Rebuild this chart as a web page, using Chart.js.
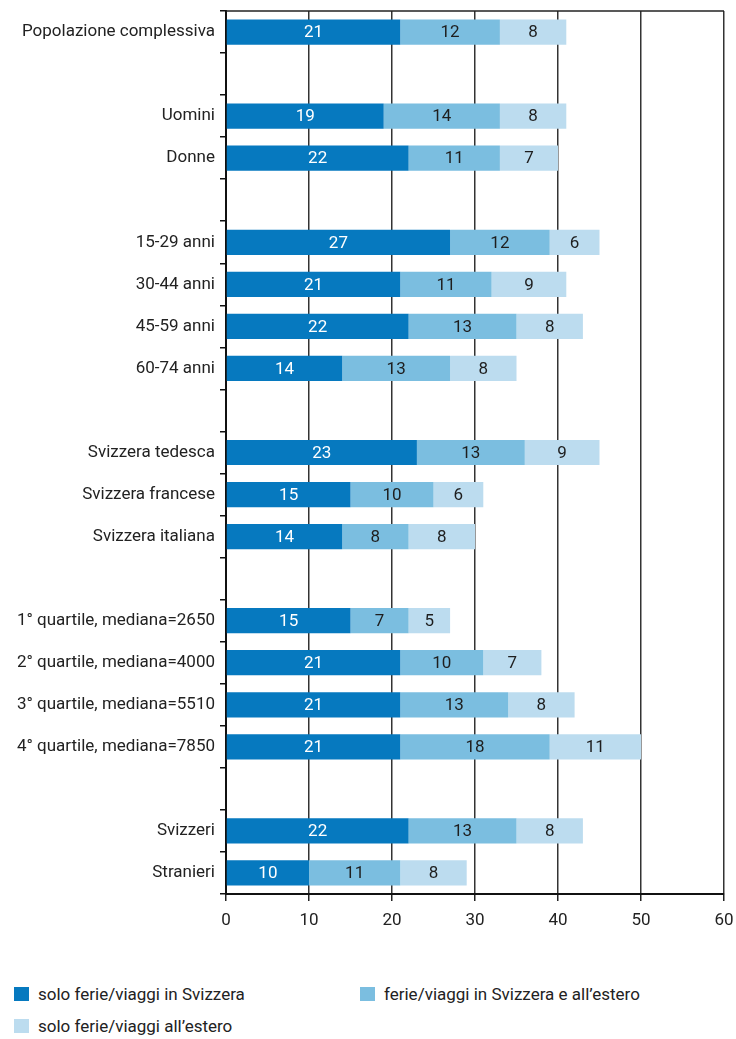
<!DOCTYPE html>
<html lang="it">
<head>
<meta charset="utf-8">
<title>Ferie e viaggi</title>
<script src="https://cdn.jsdelivr.net/npm/chart.js@4"></script>
<style>
  html, body { margin: 0; padding: 0; background: #fff; }
  body { width: 736px; height: 1039px; position: relative; font-family: Roboto, "Open Sans", sans-serif; color: #222; }
  #wrap { position: absolute; left: 0; top: 0; width: 736px; height: 945px; }
  .legend { position: absolute; font-size: 17px; line-height: 22px; display: flex; align-items: center; }
  .legend span.box { display: inline-block; width: 15px; height: 14px; margin-right: 9px; }
</style>
</head>
<body>
<div id="wrap"><canvas id="chart"></canvas></div>
<div class="legend" style="left:14px; top:983px;"><span class="box" style="background:#0679bf"></span>solo ferie/viaggi in Svizzera</div>
<div class="legend" style="left:360px; top:983px;"><span class="box" style="background:#7bbee0"></span>ferie/viaggi in Svizzera e all’estero</div>
<div class="legend" style="left:14px; top:1015px;"><span class="box" style="background:#bcdcef"></span>solo ferie/viaggi all’estero</div>
<script>
// empty strings are spacer rows between groups
const categories = [
  'Popolazione complessiva', '',
  'Uomini', 'Donne', '',
  '15-29 anni', '30-44 anni', '45-59 anni', '60-74 anni', '',
  'Svizzera tedesca', 'Svizzera francese', 'Svizzera italiana', '',
  '1° quartile, mediana=2650', '2° quartile, mediana=4000', '3° quartile, mediana=5510', '4° quartile, mediana=7850', '',
  'Svizzeri', 'Stranieri'
];
const soloSvizzera = [21, null, 19, 22, null, 27, 21, 22, 14, null, 23, 15, 14, null, 15, 21, 21, 21, null, 22, 10];
const svizzeraEstero = [12, null, 14, 11, null, 12, 11, 13, 13, null, 13, 10, 8, null, 7, 10, 13, 18, null, 13, 11];
const soloEstero = [8, null, 8, 7, null, 6, 9, 8, 8, null, 9, 6, 8, null, 5, 7, 8, 11, null, 8, 8];
const xTicks = [0, 10, 20, 30, 40, 50, 60];

const FONT = { family: 'Roboto, "Open Sans", sans-serif', size: 17 };

// value labels in the middle of each segment
const segmentLabels = {
  id: 'segmentLabels',
  afterDatasetsDraw(chart) {
    const ctx = chart.ctx;
    ctx.save();
    ctx.font = '17px Roboto, "Open Sans", sans-serif';
    ctx.textAlign = 'center';
    ctx.textBaseline = 'middle';
    chart.data.datasets.forEach((ds, i) => {
      chart.getDatasetMeta(i).data.forEach((bar, j) => {
        const v = ds.data[j];
        if (v == null) return;
        ctx.fillStyle = ds.labelColor;
        ctx.fillText(String(v), (bar.x + bar.base) / 2, bar.y + 1);
      });
    });
    ctx.restore();
  }
};

// closing line along the top of the plot
const topBorder = {
  id: 'topBorder',
  afterDraw(chart) {
    const a = chart.chartArea, ctx = chart.ctx;
    ctx.save();
    ctx.strokeStyle = '#222';
    ctx.lineWidth = 1.5;
    ctx.beginPath();
    ctx.moveTo(a.left, a.top);
    ctx.lineTo(a.right, a.top);
    ctx.stroke();
    ctx.restore();
  }
};

new Chart(document.getElementById('chart'), {
  type: 'bar',
  data: {
    labels: categories,
    datasets: [
      { label: 'solo ferie/viaggi in Svizzera', data: soloSvizzera, backgroundColor: '#0679bf', labelColor: '#ffffff' },
      { label: 'ferie/viaggi in Svizzera e all’estero', data: svizzeraEstero, backgroundColor: '#7bbee0', labelColor: '#1e1e1e' },
      { label: 'solo ferie/viaggi all’estero', data: soloEstero, backgroundColor: '#bcdcef', labelColor: '#1e1e1e' }
    ]
  },
  options: {
    indexAxis: 'y',
    responsive: true,
    maintainAspectRatio: false,
    animation: false,
    layout: { padding: { top: 11, right: 0, left: 0, bottom: 0 } },
    datasets: { bar: { categoryPercentage: 1, barPercentage: 0.6, borderWidth: 0 } },
    plugins: { legend: { display: false }, tooltip: { enabled: false } },
    scales: {
      x: {
        stacked: true,
        min: 0,
        max: 60,
        afterBuildTicks: s => { s.ticks = xTicks.map(v => ({ value: v })); },
        afterFit: s => { s.height = 51; s.paddingRight = 12; s.paddingLeft = 0; },
        grid: { color: ctx => ctx.tick && ctx.tick.value === 0 ? 'rgba(0,0,0,0)' : '#333', lineWidth: 1.5, tickLength: 7, tickColor: '#222' },
        border: { display: true, color: '#111', width: 2 },
        ticks: { font: FONT, color: '#222', padding: 10, maxRotation: 0 }
      },
      y: {
        stacked: true,
        afterFit: s => { s.width = 226; s.paddingTop = 0; s.paddingBottom = 0; },
        grid: { drawOnChartArea: false, offset: true, tickLength: 6, color: '#111', lineWidth: 1.5 },
        border: { display: true, color: '#111', width: 2 },
        ticks: { font: FONT, color: '#222', padding: 5, autoSkip: false }
      }
    }
  },
  plugins: [segmentLabels, topBorder]
});
</script>
</body>
</html>
